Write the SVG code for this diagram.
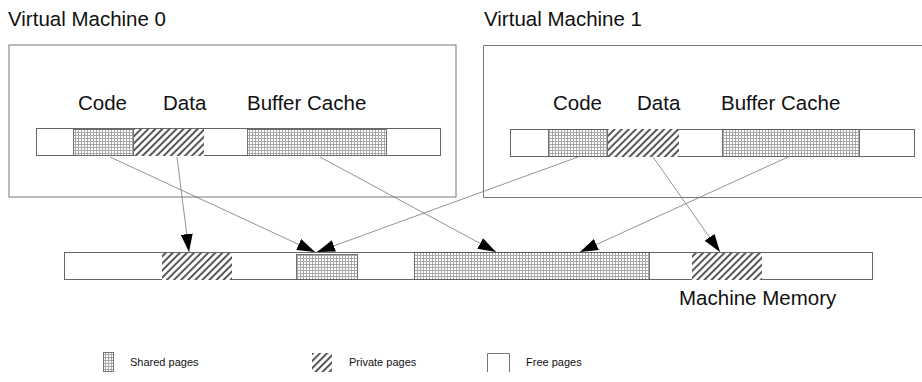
<svg xmlns="http://www.w3.org/2000/svg" width="922" height="382" viewBox="0 0 922 382">
  <defs>
    <!-- fine dotted grid used for shared pages -->
    <pattern id="shared" width="3" height="3" patternUnits="userSpaceOnUse">
      <rect width="3" height="3" fill="#ffffff"/>
      <path d="M0 0.5H3M0.5 0V3" stroke="#a8a8a8" stroke-width="1" fill="none"/>
    </pattern>
    <!-- diagonal hatching used for private pages -->
    <pattern id="private" width="5" height="5" patternUnits="userSpaceOnUse" patternTransform="rotate(45)">
      <rect width="5" height="5" fill="#ffffff"/>
      <line x1="1" y1="0" x2="1" y2="5" stroke="#111" stroke-width="1.4"/>
    </pattern>
    <marker id="head" markerWidth="18" markerHeight="12" refX="18" refY="6" orient="auto" markerUnits="userSpaceOnUse">
      <path d="M0,0 L18,6 L0,12 z" fill="#000"/>
    </marker>
  </defs>
  <style>
    .lbl { font-family: "Liberation Sans", Arial, sans-serif; font-size: 20.5px; fill: #111; }
    .leg { font-family: "Liberation Sans", Arial, sans-serif; font-size: 11px; fill: #111; }
    .frame { fill: none; stroke: #777; stroke-width: 1; }
    .bar { fill: #ffffff; stroke: #666; stroke-width: 1; }
    .sh { fill: url(#shared); stroke: #555; stroke-width: 0.8; }
    .pv { fill: url(#private); stroke: none; }
    .link { stroke: #777; stroke-width: 0.8; fill: none; marker-end: url(#head); }
  </style>

  <!-- Virtual Machine 0 -->
  <g id="vm0">
    <text class="lbl" x="8" y="26">Virtual Machine 0</text>
    <rect class="frame" x="9" y="45" width="447" height="152"/>
    <text class="lbl" x="78" y="110">Code</text>
    <text class="lbl" x="163" y="110">Data</text>
    <text class="lbl" x="247" y="110">Buffer Cache</text>
    <rect class="bar" x="36.5" y="128.5" width="404" height="27"/>
    <rect class="sh" x="73.5" y="129.5" width="60" height="26"/>
    <rect class="pv" x="134" y="129" width="70" height="27"/>
    <rect class="sh" x="247.5" y="129.5" width="139" height="26"/>
  </g>

  <!-- Virtual Machine 1 -->
  <g id="vm1">
    <text class="lbl" x="484" y="26">Virtual Machine 1</text>
    <path class="frame" d="M922,45.5 H483.5 V197.5 H922"/>
    <text class="lbl" x="553" y="110">Code</text>
    <text class="lbl" x="637" y="110">Data</text>
    <text class="lbl" x="721" y="110">Buffer Cache</text>
    <rect class="bar" x="510.5" y="129.5" width="404" height="27"/>
    <rect class="sh" x="548.5" y="129.5" width="59" height="27"/>
    <rect class="pv" x="608" y="129" width="71" height="28"/>
    <rect class="sh" x="722.5" y="129.5" width="137" height="27"/>
  </g>

  <!-- Machine memory -->
  <g id="machine-memory">
    <rect class="bar" x="64.5" y="252.5" width="808" height="27"/>
    <rect class="pv" x="162" y="253" width="70" height="27"/>
    <rect class="sh" x="296.5" y="254.5" width="61" height="25"/>
    <rect class="sh" x="414.5" y="252.5" width="235" height="27"/>
    <rect class="pv" x="692" y="253" width="70" height="27"/>
    <text class="lbl" x="679" y="305">Machine Memory</text>
  </g>

  <!-- page mappings -->
  <g id="connectors">
    <line class="link" x1="177" y1="157" x2="189" y2="252"/>
    <line class="link" x1="110" y1="157" x2="315" y2="252"/>
    <line class="link" x1="320" y1="157" x2="496" y2="252"/>
    <line class="link" x1="578" y1="157" x2="317" y2="252"/>
    <line class="link" x1="653" y1="157" x2="720" y2="252"/>
    <line class="link" x1="788" y1="157" x2="580" y2="252"/>
  </g>

  <!-- legend -->
  <g id="legend-shared">
    <rect class="sh" x="103.5" y="352.5" width="10" height="19"/>
    <text class="leg" x="130" y="366">Shared pages</text>
  </g>
  <g id="legend-private">
    <rect class="pv" x="312" y="353" width="20" height="19"/>
    <text class="leg" x="349" y="366">Private pages</text>
  </g>
  <g id="legend-free">
    <path d="M487.5,372 V353.5 H509.5 V372" fill="none" stroke="#777" stroke-width="1"/>
    <text class="leg" x="526" y="366">Free pages</text>
  </g>
</svg>
